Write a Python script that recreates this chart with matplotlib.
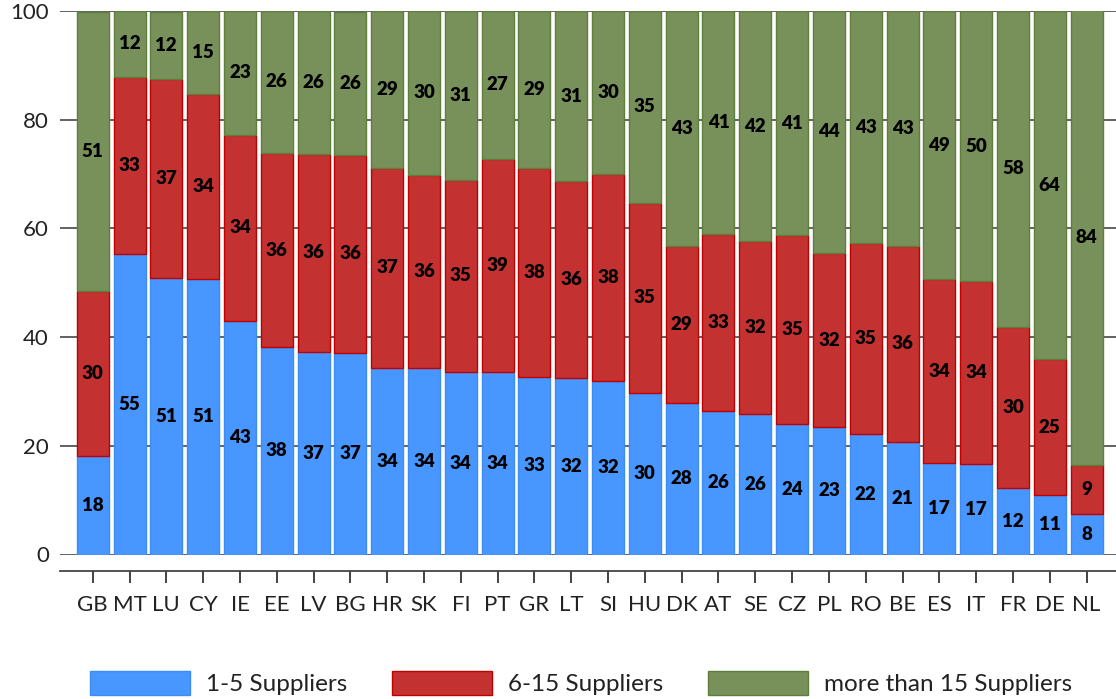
import matplotlib
matplotlib.use("Agg")
import matplotlib.pyplot as plt
import numpy as np

countries = ["GB", "MT", "LU", "CY", "IE", "EE", "LV", "BG", "HR", "SK", "FI", "PT", "GR", "LT",
             "SI", "HU", "DK", "AT", "SE", "CZ", "PL", "RO", "BE", "ES", "IT", "FR", "DE", "NL"]
small = [18.2, 55.2, 50.9, 50.7, 43.0, 38.1, 37.3, 37.1, 34.3, 34.3, 33.6, 33.5, 32.7, 32.4,
         31.9, 29.7, 27.8, 26.4, 25.8, 24.0, 23.4, 22.1, 20.7, 16.8, 16.6, 12.3, 10.9, 7.5]
medium = [30.3, 32.7, 36.6, 34.1, 34.2, 35.8, 36.4, 36.4, 36.9, 35.6, 35.3, 39.3, 38.4, 36.3,
          38.2, 35.0, 29.0, 32.6, 31.8, 34.7, 32.1, 35.2, 36.1, 33.8, 33.7, 29.6, 25.0, 9.0]
large = [51.4, 12.1, 12.4, 15.2, 22.8, 26.1, 26.3, 26.4, 28.8, 30.1, 31.1, 27.2, 28.9, 31.3,
         29.9, 35.3, 43.2, 41.0, 42.4, 41.3, 44.5, 42.7, 43.2, 49.4, 49.7, 58.1, 64.1, 83.6]
series_names = ["1-5 Suppliers", "6-15 Suppliers", "more than 15 Suppliers"]
yticks = [0, 20, 40, 60, 80, 100]

colors = ["#4896FF", "#C43131", "#78905A"]
edges = ["#3C8CF5", "#C00000", "#5E7F3C"]

plt.rcParams['font.family'] = ['Lato', 'DejaVu Sans']

fig = plt.figure(figsize=(11.16, 6.99), dpi=100)
ax = fig.add_axes([60/1116, 1-554.5/699, 1-60/1116, (554.5-11)/699])

x = np.arange(len(countries))
bottom = np.zeros(len(countries))
for vals, c, ec, name in zip([small, medium, large], colors, edges, series_names):
    vals = np.array(vals)
    ax.bar(x, vals, width=0.87, bottom=bottom, color=c, edgecolor=ec, linewidth=1.0,
           label=name, zorder=3)
    for xi, b, v in zip(x, bottom, vals):
        ax.text(xi, b + v/2, f"{v:.0f}", ha="center", va="center", fontsize=13.5,
                fontweight="heavy", color="black", zorder=4)
    bottom = bottom + vals

ax.set_xlim(-0.89, 27.8)
ax.set_ylim(0, 100)
ax.set_yticks(yticks)
ax.set_xticks(x)
ax.set_xticklabels(countries)
ax.grid(axis="y", color="#555555", linewidth=1.3, zorder=0)
ax.set_axisbelow(True)
for s in ["left", "right", "top"]:
    ax.spines[s].set_visible(False)
ax.spines["bottom"].set_position(("outward", 12))
ax.spines["bottom"].set_color("#444444")
ax.spines["bottom"].set_linewidth(1.3)
ax.tick_params(axis="y", length=0, pad=8, labelsize=16, labelcolor="#222222")
ax.tick_params(axis="x", length=8.5, width=1.2, color="#222222", pad=9, labelsize=16,
               labelcolor="#222222")

fig.legend(loc="center", bbox_to_anchor=(581/1116, 1-683/699), ncol=3, frameon=False,
           fontsize=17.5, handlelength=4.11, handleheight=1.15, handletextpad=0.66,
           columnspacing=1.85, labelcolor="#222222")

fig.savefig("out.png", dpi=100)
